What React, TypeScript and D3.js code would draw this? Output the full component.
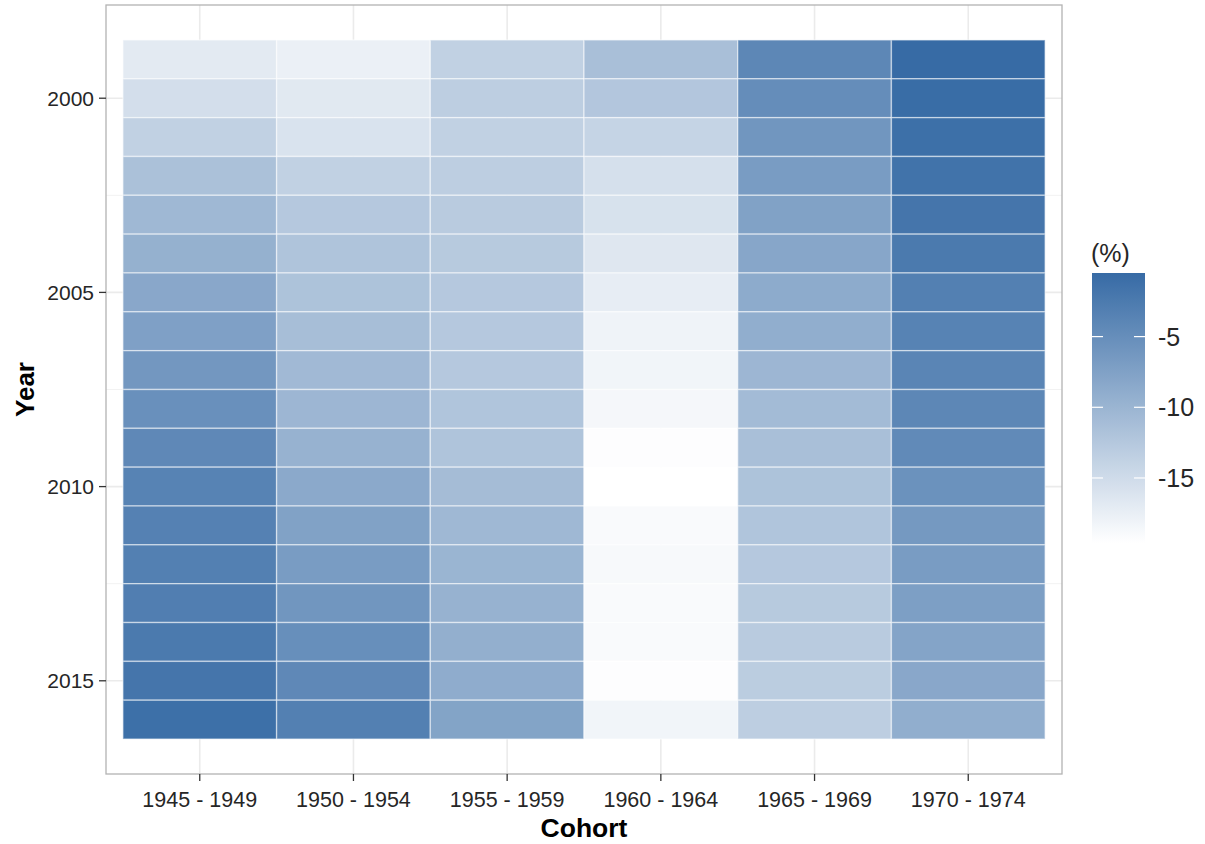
import React from "react";
import * as d3 from "d3";

const cohorts = ["1945 - 1949", "1950 - 1954", "1955 - 1959", "1960 - 1964", "1965 - 1969", "1970 - 1974"];
const years = [1999, 2000, 2001, 2002, 2003, 2004, 2005, 2006, 2007, 2008, 2009, 2010, 2011, 2012, 2013, 2014, 2015, 2016];
const yearTicks = [2000, 2005, 2010, 2015];
const legendTicks = [-5, -10, -15];
const fillDomain = [-19.6, -0.5];

// values (%) per cohort, one per year 1999..2016
const v1945 = [-16.9, -15.4, -13.7, -11.6, -10.4, -9.5, -8.3, -7.4, -6.2, -5.3, -4.3, -3.6, -3.4, -3.2, -3.0, -2.4, -1.8, -1.1];
const v1950 = [-17.7, -16.7, -16.0, -13.7, -12.5, -12.0, -11.8, -11.2, -10.6, -10.2, -9.7, -8.5, -7.6, -6.8, -6.0, -5.1, -4.3, -3.2];
const v1955 = [-13.7, -13.3, -13.7, -13.3, -12.9, -12.7, -12.5, -12.5, -12.5, -12.1, -12.0, -11.0, -10.4, -10.0, -9.7, -9.3, -8.9, -7.8];
const v1960 = [-11.4, -12.3, -14.1, -15.6, -15.8, -16.5, -17.3, -18.1, -18.3, -18.6, -19.4, -19.6, -19.0, -18.8, -19.0, -19.0, -19.4, -18.3];
const v1965 = [-4.1, -4.9, -6.0, -6.8, -7.6, -8.1, -8.7, -9.1, -10.2, -10.8, -11.4, -11.8, -12.1, -12.5, -12.7, -12.9, -13.1, -13.3];
const v1970 = [-0.5, -0.7, -1.1, -1.5, -1.8, -2.4, -3.2, -3.6, -3.8, -4.1, -4.5, -5.5, -6.4, -6.8, -7.2, -7.9, -8.3, -9.1];
const seriesValues = [v1945, v1950, v1955, v1960, v1965, v1970];

const W = 1205;
const H = 844;
const panel = { left: 106, right: 1062, top: 5, bottom: 774 };

export default function App() {
  const x = d3
    .scaleBand<string>()
    .domain(cohorts)
    .range([panel.left, panel.right])
    .paddingInner(0)
    .paddingOuter(0.11);
  const ext = years.length * 0.05;
  const y = d3
    .scaleLinear()
    .domain([years[0] - 0.5 - ext, years[years.length - 1] + 0.5 + ext])
    .range([panel.top, panel.bottom]);
  const color = d3
    .scaleLinear<string>()
    .domain(fillDomain)
    .range(["#FFFFFF", "#376BA5"])
    .interpolate(d3.interpolateRgb)
    .clamp(true);

  const cells: { c: string; yr: number; v: number }[] = [];
  cohorts.forEach((c, i) => {
    years.forEach((yr, j) => cells.push({ c, yr, v: seriesValues[i][j] }));
  });

  const minorYears = [1997.5, 2002.5, 2007.5, 2012.5, 2017.5];
  const leg = { x: 1092, w: 53, top: 273, bottom: 543 };
  const ly = d3.scaleLinear().domain(fillDomain).range([leg.bottom, leg.top]);
  const stops = d3.range(0, 21).map((k) => {
    const v = fillDomain[0] + (k / 20) * (fillDomain[1] - fillDomain[0]);
    return { off: k / 20, col: color(v) };
  });

  const font = "'Liberation Sans', Arial, Helvetica, sans-serif";

  return (
    <svg width={W} height={H} style={{ position: "absolute", left: 0, top: 0, background: "#fff" }}>
      <defs>
        <linearGradient id="lg" x1="0" y1="1" x2="0" y2="0">
          {stops.map((s, i) => (
            <stop key={i} offset={s.off} stopColor={s.col} />
          ))}
        </linearGradient>
        <clipPath id="pc">
          <rect x={panel.left} y={panel.top} width={panel.right - panel.left} height={panel.bottom - panel.top} />
        </clipPath>
      </defs>
      <rect x={0} y={0} width={W} height={H} fill="#fff" />
      <g clipPath="url(#pc)">
        {minorYears.map((m) => (
          <line key={"mi" + m} x1={panel.left} x2={panel.right} y1={y(m)} y2={y(m)} stroke="#F2F2F2" strokeWidth={1} />
        ))}
        {yearTicks.map((t) => (
          <line key={"mj" + t} x1={panel.left} x2={panel.right} y1={y(t)} y2={y(t)} stroke="#EBEBEB" strokeWidth={1.6} />
        ))}
        {cohorts.map((c) => (
          <line
            key={"vx" + c}
            x1={x(c)! + x.bandwidth() / 2}
            x2={x(c)! + x.bandwidth() / 2}
            y1={panel.top}
            y2={panel.bottom}
            stroke="#EBEBEB"
            strokeWidth={1.6}
          />
        ))}
      </g>
      {cells.map((d, i) => (
        <rect
          key={i}
          x={x(d.c)!}
          y={y(d.yr - 0.5)}
          width={x.bandwidth()}
          height={y(d.yr + 0.5) - y(d.yr - 0.5)}
          fill={color(d.v)}
          stroke="#FFFFFF"
          strokeOpacity={0.5}
          strokeWidth={1.4}
        />
      ))}
      <rect
        x={panel.left}
        y={panel.top}
        width={panel.right - panel.left}
        height={panel.bottom - panel.top}
        fill="none"
        stroke="#B3B3B3"
        strokeWidth={1.3}
      />
      {/* y axis */}
      {yearTicks.map((t) => (
        <g key={"yt" + t}>
          <line x1={panel.left - 7} x2={panel.left} y1={y(t)} y2={y(t)} stroke="#333" strokeWidth={1.3} />
          <text x={panel.left - 12} y={y(t)} dy="0.36em" textAnchor="end" fontFamily={font} fontSize={21} fill="#262626">
            {t}
          </text>
        </g>
      ))}
      <text
        transform={`translate(34, ${(panel.top + panel.bottom) / 2}) rotate(-90)`}
        textAnchor="middle"
        fontFamily={font}
        fontSize={26}
        fontWeight="bold"
        fill="#000"
      >
        Year
      </text>
      {/* x axis */}
      {cohorts.map((c) => {
        const cx = x(c)! + x.bandwidth() / 2;
        return (
          <g key={"xt" + c}>
            <line x1={cx} x2={cx} y1={panel.bottom} y2={panel.bottom + 7} stroke="#333" strokeWidth={1.3} />
            <text x={cx} y={panel.bottom + 33} textAnchor="middle" fontFamily={font} fontSize={21.5} fill="#262626">
              {c}
            </text>
          </g>
        );
      })}
      <text
        x={(panel.left + panel.right) / 2}
        y={837}
        textAnchor="middle"
        fontFamily={font}
        fontSize={26.5}
        fontWeight="bold"
        fill="#000"
      >
        Cohort
      </text>
      {/* legend */}
      <text x={leg.x - 1} y={262} fontFamily={font} fontSize={25} fill="#262626">
        (%)
      </text>
      <rect x={leg.x} y={leg.top} width={leg.w} height={leg.bottom - leg.top} fill="url(#lg)" />
      {legendTicks.map((t) => (
        <g key={"lt" + t}>
          <line x1={leg.x} x2={leg.x + 11} y1={ly(t)} y2={ly(t)} stroke="#fff" strokeWidth={1.2} />
          <line x1={leg.x + leg.w - 11} x2={leg.x + leg.w} y1={ly(t)} y2={ly(t)} stroke="#fff" strokeWidth={1.2} />
          <text x={leg.x + leg.w + 13} y={ly(t)} dy="0.36em" fontFamily={font} fontSize={25} fill="#262626">
            {t}
          </text>
        </g>
      ))}
    </svg>
  );
}
